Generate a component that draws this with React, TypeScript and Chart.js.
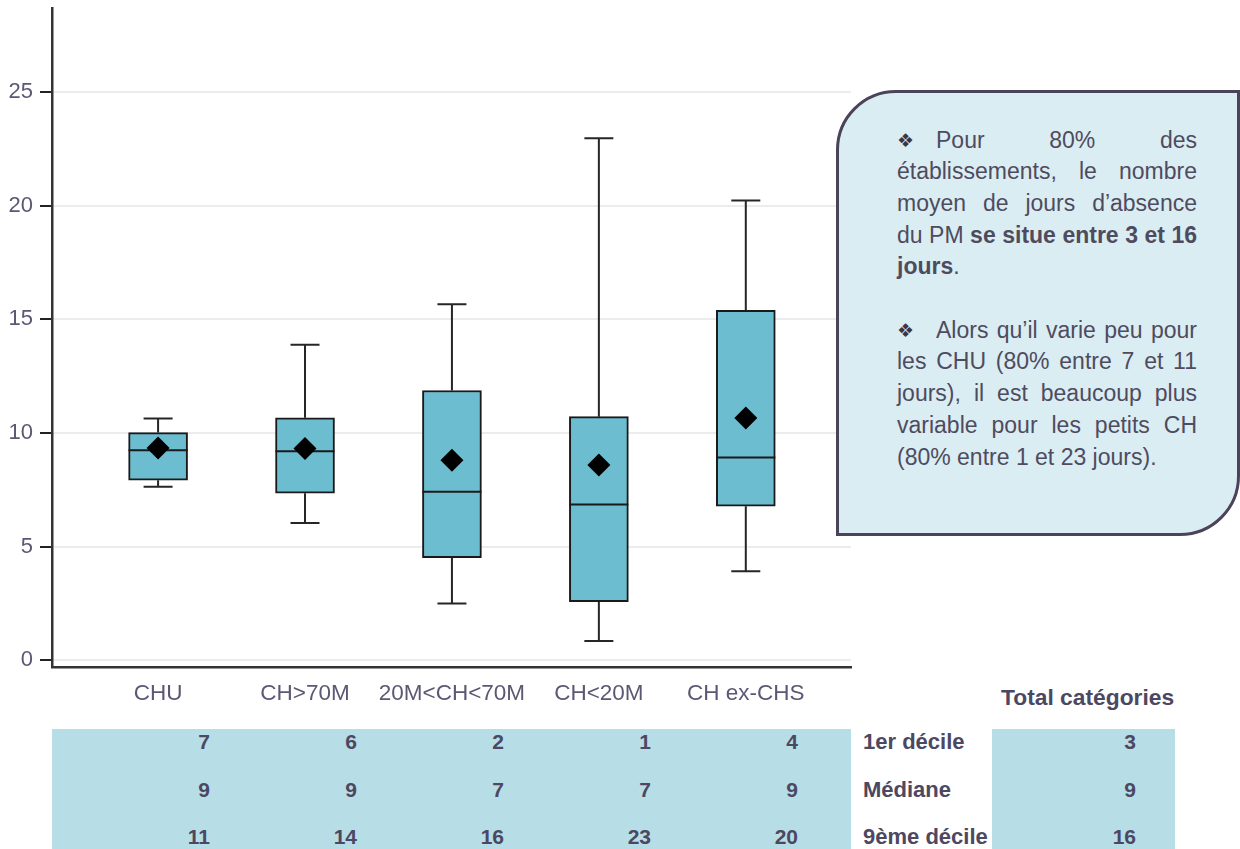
import React, { useEffect, useRef } from "react";
import { Chart, registerables } from "chart.js";

Chart.register(...registerables);

const categories = ["CHU", "CH>70M", "20M<CH<70M", "CH<20M", "CH ex-CHS"];
const p10 = [7.63, 6.04, 2.49, 0.84, 3.92];
const q1 = [7.92, 7.35, 4.51, 2.58, 6.78];
const median = [9.24, 9.2, 7.41, 6.85, 8.92];
const q3 = [10.02, 10.67, 11.87, 10.72, 15.4];
const p90 = [10.64, 13.88, 15.67, 22.98, 20.24];
const means = [9.34, 9.32, 8.8, 8.59, 10.66];
const yTicks = [0, 5, 10, 15, 20, 25];

const rowLabels = ["1er décile", "Médiane", "9ème décile"];
const tableDecile1 = [7, 6, 2, 1, 4];
const tableMedian = [9, 9, 7, 7, 9];
const tableDecile9 = [11, 14, 16, 23, 20];
const totalValues = [3, 9, 16];

const FONT = "'Liberation Sans', Arial, sans-serif";
const TEXT = "#4d4862";
const AXIS_TEXT = "#5b5873";

const whiskerPlugin = {
  id: "whiskers",
  beforeDatasetsDraw(chart: any) {
    const { ctx, scales } = chart;
    const xs = scales.x;
    const ys = scales.y;
    ctx.save();
    ctx.strokeStyle = "#262626";
    ctx.lineWidth = 2;
    categories.forEach((_, i) => {
      const x = xs.getPixelForValue(i);
      const cap = 14.5;
      const yTop = ys.getPixelForValue(p90[i]);
      const yQ3 = ys.getPixelForValue(q3[i]);
      const yQ1 = ys.getPixelForValue(q1[i]);
      const yBot = ys.getPixelForValue(p10[i]);
      ctx.beginPath();
      ctx.moveTo(x, yQ3);
      ctx.lineTo(x, yTop);
      ctx.moveTo(x - cap, yTop);
      ctx.lineTo(x + cap, yTop);
      ctx.moveTo(x, yQ1);
      ctx.lineTo(x, yBot);
      ctx.moveTo(x - cap, yBot);
      ctx.lineTo(x + cap, yBot);
      ctx.stroke();
    });
    ctx.restore();
  },
  afterDatasetDraw(chart: any, args: any) {
    if (args.index !== 1) return;
    const { ctx, scales } = chart;
    const xs = scales.x;
    const ys = scales.y;
    ctx.save();
    ctx.strokeStyle = "#1a1a1a";
    ctx.lineWidth = 2;
    categories.forEach((_, i) => {
      const x = xs.getPixelForValue(i);
      const y = ys.getPixelForValue(median[i]);
      ctx.beginPath();
      ctx.moveTo(x - 29.5, y);
      ctx.lineTo(x + 29.5, y);
      ctx.stroke();
    });
    ctx.restore();
  },
};

function BoxChart() {
  const ref = useRef<HTMLCanvasElement | null>(null);
  useEffect(() => {
    if (!ref.current) return;
    Chart.defaults.font.family = FONT;
    const chart = new Chart(ref.current, {
      type: "bar",
      data: {
        datasets: [
          {
            type: "scatter",
            data: means.map((v, i) => ({ x: i, y: v })),
            pointStyle: "rectRot",
            pointRadius: 11.5,
            backgroundColor: "#000",
            borderColor: "#000",
            borderWidth: 0,
          } as any,
          {
            type: "bar",
            data: categories.map((_, i) => ({ x: i, y: [q1[i], q3[i]] })),
            backgroundColor: "#6cbdd0",
            borderColor: "#1a1a1a",
            borderWidth: 2,
            borderSkipped: false,
            barThickness: 59,
          } as any,
        ],
      },
      options: {
        animation: false,
        responsive: false,
        maintainAspectRatio: false,
        layout: { autoPadding: false, padding: { top: 8, right: 9 } } as any,
        plugins: { legend: { display: false }, tooltip: { enabled: false } },
        scales: {
          x: {
            type: "linear",
            min: -0.722,
            max: 4.716,
            offset: false,
            grid: { display: false, drawTicks: false },
            border: { display: true, color: "#333", width: 2.5 },
            afterBuildTicks: (s: any) => {
              s.ticks = categories.map((_, i) => ({ value: i }));
            },
            afterFit: (s: any) => {
              s.height = 53;
            },
            ticks: {
              autoSkip: false,
              maxRotation: 0,
              padding: 13,
              color: AXIS_TEXT,
              font: { size: 22.5, family: FONT },
              callback: (v: any) => categories[v as number] ?? "",
            },
          },
          y: {
            type: "linear",
            min: -0.3,
            max: 28.7,
            afterBuildTicks: (s: any) => {
              s.ticks = yTicks.map((v) => ({ value: v }));
            },
            afterFit: (s: any) => {
              s.width = 52;
            },
            grid: {
              color: "#ececec",
              lineWidth: 2,
              tickColor: "#222",
              tickWidth: 2,
              tickLength: 12,
            } as any,
            border: { display: true, color: "#333", width: 2.5 },
            ticks: {
              padding: 7,
              color: AXIS_TEXT,
              font: { size: 22, family: FONT },
            },
          },
        },
      },
      plugins: [whiskerPlugin],
    });
    return () => chart.destroy();
  }, []);
  return (
    <canvas
      ref={ref}
      width={860}
      height={732}
      style={{ position: "absolute", left: 0, top: -12, width: 860, height: 732 }}
    />
  );
}

const colRight = [210, 357, 504, 651, 798];
const rowCenter = [742, 790, 837];
const tableRows = [tableDecile1, tableMedian, tableDecile9];

function Line({ text, justify, top, bullet }: { text: React.ReactNode; justify: boolean; top: number; bullet?: boolean }) {
  return (
    <div
      style={{
        position: "absolute",
        left: 58,
        top,
        width: 300,
        height: 31.7,
        lineHeight: "31.7px",
        whiteSpace: "nowrap",
        display: "flex",
      } as any}
    >
      {bullet ? (
        <span
          style={{
            display: "inline-block",
            width: 39,
            flex: "0 0 39px",
            fontFamily: "'DejaVu Sans'",
            fontSize: 19,
            color: "#3a3648",
          }}
        >
          ❖
        </span>
      ) : null}
      <div
        style={{
          flex: "1 1 auto",
          textAlign: justify ? "justify" : "left",
          textAlignLast: justify ? "justify" : "left",
        } as any}
      >
        {text}
      </div>
    </div>
  );
}

export default function App() {
  const L = 31.7;
  const t0 = 31.5;
  return (
    <div
      style={{
        position: "absolute",
        left: 0,
        top: 0,
        width: 1240,
        height: 849,
        overflow: "hidden",
        background: "#fff",
        fontFamily: FONT,
      }}
    >
      {/* table backgrounds */}
      <div style={{ position: "absolute", left: 52, top: 729, width: 799, height: 120, background: "#b7dde6" }} />
      <div style={{ position: "absolute", left: 992, top: 729, width: 183, height: 120, background: "#b7dde6" }} />
      <BoxChart />
      {/* callout */}
      <div
        style={{
          position: "absolute",
          left: 836,
          top: 90,
          width: 404,
          height: 446,
          boxSizing: "border-box",
          border: "3px solid #4a4359",
          borderTopLeftRadius: 60,
          borderBottomRightRadius: 60,
          background: "#daedf3",
          color: "#4f4b5e",
          fontSize: 23,
        }}
      >
        <Line top={t0} justify bullet text="Pour 80% des" />
        <Line top={t0 + L} justify text="établissements, le nombre" />
        <Line top={t0 + 2 * L} justify text="moyen de jours d’absence" />
        <Line top={t0 + 3 * L} justify text={<>du PM <b>se situe entre 3 et 16</b></>} />
        <Line top={t0 + 4 * L} justify={false} text={<><b>jours</b>.</>} />
        <Line top={t0 + 6 * L} justify bullet text="Alors qu’il varie peu pour" />
        <Line top={t0 + 7 * L} justify text="les CHU (80% entre 7 et 11" />
        <Line top={t0 + 8 * L} justify text="jours), il est beaucoup plus" />
        <Line top={t0 + 9 * L} justify text="variable pour les petits CH" />
        <Line top={t0 + 10 * L} justify={false} text="(80% entre 1 et 23 jours)." />
      </div>
      {/* table text */}
      <div
        style={{
          position: "absolute",
          left: 1001,
          top: 697 - 15,
          height: 30,
          lineHeight: "30px",
          fontSize: 22.8,
          fontWeight: "bold",
          color: TEXT,
          whiteSpace: "nowrap",
        }}
      >
        Total catégories
      </div>
      {tableRows.map((row, r) => (
        <React.Fragment key={r}>
          {row.map((v, c) => (
            <div
              key={c}
              style={{
                position: "absolute",
                left: colRight[c] - 100,
                width: 100,
                top: rowCenter[r] - 15,
                height: 30,
                lineHeight: "30px",
                textAlign: "right",
                fontSize: 21,
                fontWeight: "bold",
                color: TEXT,
              }}
            >
              {v}
            </div>
          ))}
          <div
            style={{
              position: "absolute",
              left: 863,
              top: rowCenter[r] - 15,
              height: 30,
              lineHeight: "30px",
              fontSize: 22,
              fontWeight: "bold",
              color: TEXT,
              whiteSpace: "nowrap",
            }}
          >
            {rowLabels[r]}
          </div>
          <div
            style={{
              position: "absolute",
              left: 1036,
              width: 100,
              top: rowCenter[r] - 15,
              height: 30,
              lineHeight: "30px",
              textAlign: "right",
              fontSize: 21,
              fontWeight: "bold",
              color: TEXT,
            }}
          >
            {totalValues[r]}
          </div>
        </React.Fragment>
      ))}
    </div>
  );
}
